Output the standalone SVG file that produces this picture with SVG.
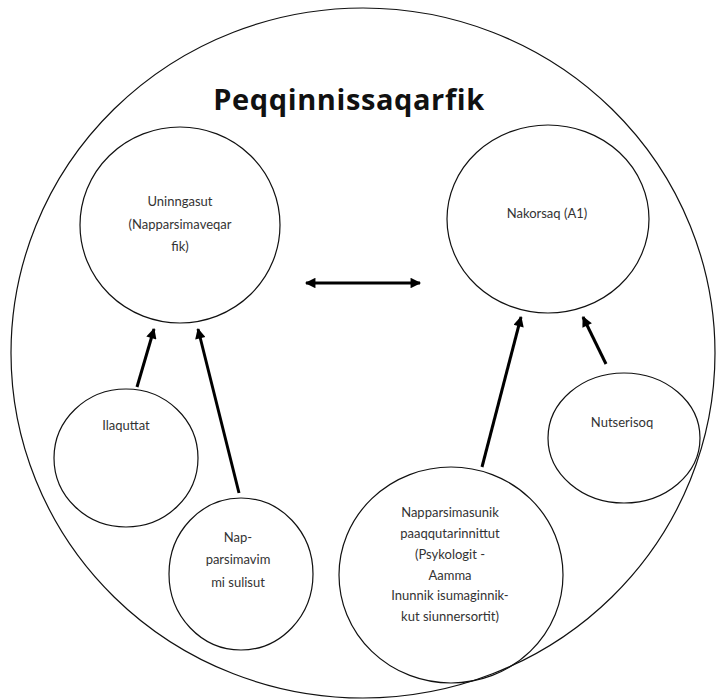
<svg xmlns="http://www.w3.org/2000/svg" width="717" height="700" viewBox="0 0 717 700">
<style>
.node{fill:none;stroke:#111;stroke-width:1.2}
.lbl{font-family:Lato,"Open Sans",sans-serif;font-size:13px;fill:#333;text-anchor:middle}
.title{font-family:"Open Sans",Lato,sans-serif;font-size:29px;font-weight:bold;fill:#111;text-anchor:middle;letter-spacing:0.6px}
.conn{stroke:#000;stroke-width:3;fill:none}
</style>
<defs>
<marker id="ah" viewBox="0 0 10 10" refX="9" refY="5" markerWidth="4" markerHeight="3.5" orient="auto-start-reverse" markerUnits="strokeWidth">
<path d="M0,0 L10,5 L0,10 z" fill="#000"/>
</marker>
</defs>
<rect width="717" height="700" fill="#fff"/>
<g id="outer">
<ellipse class="node" cx="363" cy="353" rx="352" ry="345"/>
<text class="title" x="349" y="110">Peqqinnissaqarfik</text>
</g>
<g id="uninngasut">
<ellipse class="node" cx="180" cy="225" rx="100" ry="98"/>
<text class="lbl" x="180" y="206">Uninngasut</text>
<text class="lbl" x="180" y="229">(Napparsimaveqar</text>
<text class="lbl" x="180" y="251">fik)</text>
</g>
<g id="nakorsaq">
<ellipse class="node" cx="548" cy="219" rx="101" ry="94"/>
<text class="lbl" x="547" y="218">Nakorsaq (A1)</text>
</g>
<g id="ilaquttat">
<ellipse class="node" cx="126" cy="458" rx="72" ry="69"/>
<text class="lbl" x="126" y="430">Ilaquttat</text>
</g>
<g id="napparsimavimmi">
<ellipse class="node" cx="241" cy="574" rx="72" ry="76"/>
<text class="lbl" x="238" y="542">Nap-</text>
<text class="lbl" x="238" y="564">parsimavim</text>
<text class="lbl" x="238" y="587">mi sulisut</text>
</g>
<g id="napparsimasunik">
<ellipse class="node" cx="451" cy="575" rx="112" ry="108"/>
<text class="lbl" x="450" y="517">Napparsimasunik</text>
<text class="lbl" x="450" y="538">paaqqutarinnittut</text>
<text class="lbl" x="450" y="559">(Psykologit -</text>
<text class="lbl" x="450" y="580">Aamma</text>
<text class="lbl" x="450" y="600">Inunnik isumaginnik-</text>
<text class="lbl" x="450" y="621">kut siunnersortit)</text>
</g>
<g id="nutserisoq">
<ellipse class="node" cx="624" cy="438" rx="76" ry="65"/>
<text class="lbl" x="622" y="427">Nutserisoq</text>
</g>
<g id="connectors">
<line class="conn" x1="306" y1="283" x2="420" y2="283" marker-start="url(#ah)" marker-end="url(#ah)"/>
<line class="conn" x1="137" y1="387" x2="154" y2="329" marker-end="url(#ah)"/>
<line class="conn" x1="239" y1="493" x2="198" y2="329" marker-end="url(#ah)"/>
<line class="conn" x1="482" y1="467" x2="521" y2="317" marker-end="url(#ah)"/>
<line class="conn" x1="606" y1="364" x2="583" y2="317" marker-end="url(#ah)"/>
</g>
</svg>
